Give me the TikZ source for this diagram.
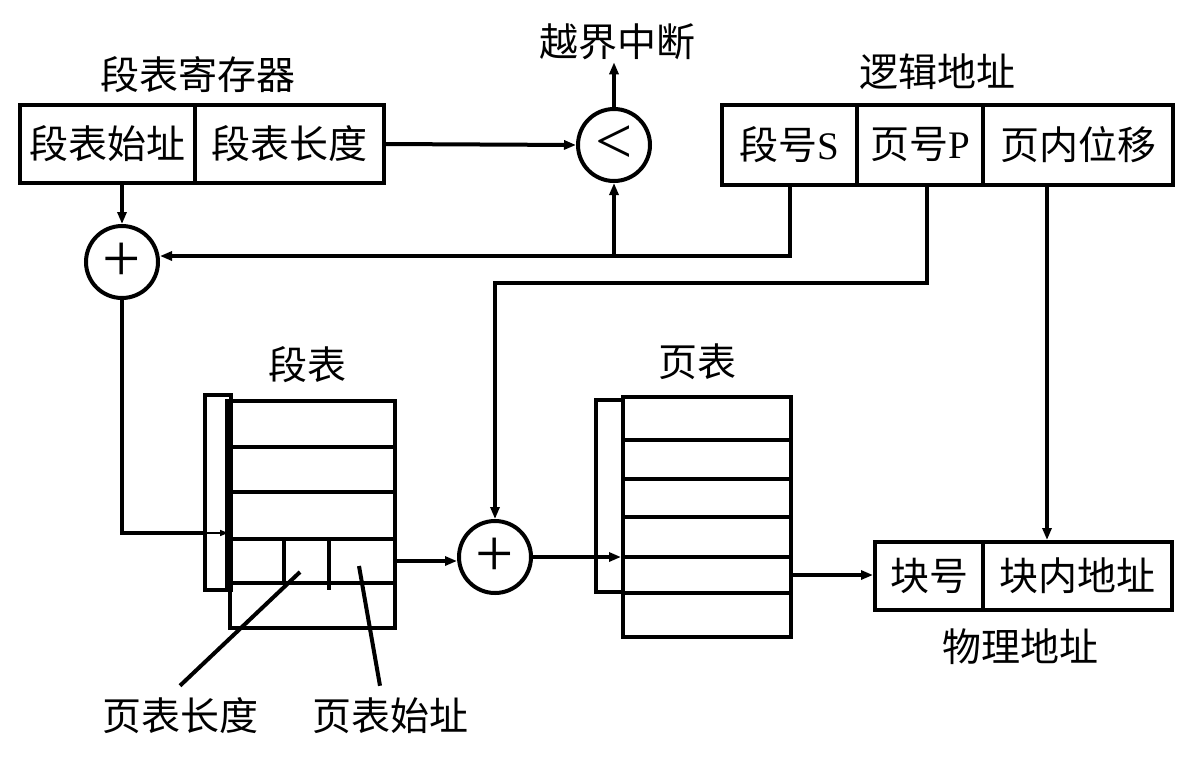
\documentclass[tikz,border=0pt]{standalone}
\usepackage{fontspec}
\setmainfont{Liberation Serif}
\newfontfamily\cjk{Noto Sans CJK SC}
\newfontfamily\lat{Liberation Serif}
\newcommand\myfs{\fontsize{39}{44}\selectfont\cjk}
\usetikzlibrary{arrows.meta}
\begin{document}
\begin{tikzpicture}[x=1pt,y=-1pt,
  lw/.style={line width=4pt},
  cell/.style={draw,lw,rectangle,inner sep=0pt,font=\myfs},
  arr/.style={lw,-{Triangle[length=12pt,width=9pt]}},
  op/.style={draw,lw,circle,minimum size=72pt,inner sep=0pt},
  lbl/.style={font=\myfs,inner sep=2pt}]
\useasboundingbox[fill=white] (0,0) rectangle (1184,764);

% segment table register
\node[cell,minimum width=175pt,minimum height=78pt] (ra) at (107.5,144) {段表始址};
\node[cell,minimum width=189pt,minimum height=78pt] (rb) at (289.5,144) {段表长度};
\node[lbl] (rlab) at (198,75) {段表寄存器};

% comparator
\node[op] (cmp) at (614,145) {\lat\fontsize{66}{66}\selectfont\raisebox{-3pt}{<}};
\node[lbl] (oob) at (617,42) {越界中断};

% logical address
\node[cell,minimum width=135pt,minimum height=80pt] (ls) at (789.5,145) {段号{\lat S}};
\node[cell,minimum width=126pt,minimum height=80pt] (lp) at (920,145) {页号{\lat P}};
\node[cell,minimum width=190pt,minimum height=80pt] (lo) at (1078,145) {页内位移};
\node[lbl] (llab) at (937,72) {逻辑地址};

% adders
\node[op] (add1) at (122,262) {\lat\fontsize{68}{68}\selectfont\raisebox{-2pt}{+}};
\node[op] (add2) at (495,557) {\lat\fontsize{68}{68}\selectfont\raisebox{-2pt}{+}};

% segment table
\node[lbl] (stlab) at (307,365) {段表};
\node[draw,lw,minimum width=26pt,minimum height=195pt,inner sep=0pt] (stn) at (218,492.5) {};
\node[cell,minimum width=165pt,minimum height=46pt] (st1) at (312.5,424) {};
\node[cell,minimum width=165pt,minimum height=45pt] (st2) at (312.5,469.5) {};
\node[cell,minimum width=165pt,minimum height=47pt] (st3) at (312.5,515.5) {};
\node[cell,minimum width=165pt,minimum height=44pt] (st4) at (312.5,561) {};
\node[cell,minimum width=165pt,minimum height=45pt] (st5) at (312.5,605.5) {};
\draw[line width=6pt] (st1.north west) -- (st1.north west |- stn.south);
\draw[lw] ([xshift=56pt]st4.north west) -- ([xshift=56pt]st4.south west);
\draw[lw] ([xshift=101pt,yshift=-4pt]st4.north west) -- ([xshift=101pt,yshift=-5pt]st4.south west);

% page table
\node[lbl] (ptlab) at (697,362) {页表};
\node[cell,minimum width=168pt,minimum height=43pt] (pt1) at (707,418.5) {};
\node[cell,minimum width=168pt,minimum height=39pt] (pt2) at (707,459.5) {};
\node[cell,minimum width=168pt,minimum height=38pt] (pt3) at (707,498) {};
\node[cell,minimum width=168pt,minimum height=40pt] (pt4) at (707,537) {};
\node[cell,minimum width=168pt,minimum height=36pt] (pt5) at (707,575) {};
\node[cell,minimum width=168pt,minimum height=44pt] (pt6) at (707,615) {};
\draw[lw] ([yshift=-5pt]pt1.north west) -- ++(-25,0) |- ([yshift=3pt]pt5.south west);

% physical address
\node[cell,minimum width=108pt,minimum height=68pt] (pa) at (929,576) {块号};
\node[cell,minimum width=189pt,minimum height=68pt] (pb) at (1077.5,576) {块内地址};
\node[lbl] (plab) at (1020,647) {物理地址};

% bottom labels
\node[lbl] (l1) at (180,716) {页表长度};
\node[lbl] (l2) at (390,716) {页表始址};
\coordinate (p1) at (300,572);
\coordinate (p2) at (359,566);
\draw[lw] (p1) -- ([yshift=10pt]l1.north);
\draw[lw] (p2) -- ([yshift=10pt,xshift=-10pt]l2.north);

% connectors
\draw[arr] (rb.east) -- (cmp.west);
\draw[arr] (cmp.north) -- (cmp.north |- oob.south);
\draw[arr] (ra.south -| add1.north) -- (add1.north);
\coordinate (sj) at ([yshift=6pt]add1.east);
\draw[arr] (ls.south) |- (sj);
\draw[arr] (cmp.south |- sj) -- (cmp.south);
\coordinate (pj) at (lp.south |- 0,283);
\draw[arr] ([xshift=7pt]lp.south) -- ([xshift=7pt]pj) -| (add2.north);
\coordinate (oj) at ([xshift=-31pt]lo.south);
\draw[arr] (oj) -- (oj |- pb.north);
\draw[lw] (add1.south) |- ([yshift=4pt]stn.west |- st4.north);
\draw[line width=1.5pt,-{Triangle[length=8pt,width=6pt]}] ([yshift=4pt]stn.west |- st4.north) -- ([yshift=4pt]st4.north west);
\draw[arr] (st4.east) -- (st4.east -| add2.west);
\draw[arr] (add2.east) -- (add2.east -| pt5.north west);
\draw[arr] (pt5.east) -- (pt5.east -| pa.west);
\end{tikzpicture}
\end{document}
